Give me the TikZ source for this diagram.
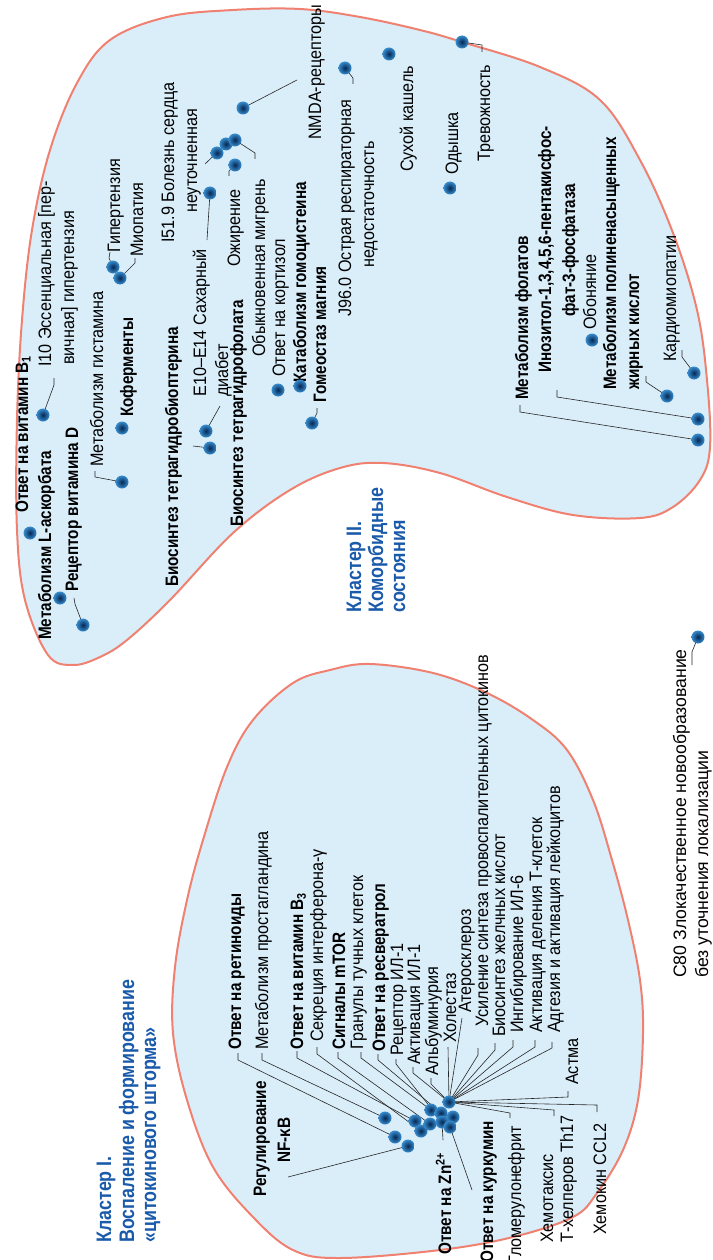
\documentclass[tikz,border=0pt]{standalone}
\usepackage{fontspec}
\setmainfont{Liberation Sans}[FakeStretch=0.9,BoldFeatures={FakeStretch=0.85}]
\newfontfamily\widefont{Liberation Sans}[FakeStretch=0.98]
\definecolor{blobfill}{RGB}{218,238,250}
\definecolor{blobline}{RGB}{240,128,112}
\definecolor{headblue}{RGB}{25,90,170}
\definecolor{dotin}{RGB}{5,40,85}
\definecolor{dotout}{RGB}{55,140,205}
\pgfdeclarelayer{bg}
\pgfdeclarelayer{fg}
\pgfsetlayers{bg,main,fg}
\tikzset{
  lab/.style={rotate=90, anchor=base west, inner sep=0pt, text=black, font=\fontsize{18}{22}\selectfont},
  blab/.style={lab, font=\fontsize{18}{22}\selectfont\bfseries},
  wlab/.style={lab, font=\widefont\fontsize{18}{22}\selectfont},
  head/.style={rotate=90, anchor=base west, inner sep=0pt, text=headblue, font=\fontsize{21}{23}\selectfont\bfseries},
  blob/.style={draw=blobline, line width=2pt, fill=blobfill},
  leader/.style={draw=black!85, line width=0.6pt},
  dot/.style={circle, minimum size=13pt, inner sep=0pt, draw=none, inner color=dotin, outer color=dotout}
}
\begin{document}
\begin{tikzpicture}[x=1pt,y=-1pt]
\useasboundingbox (0,0) rectangle (712,1260);
% ---- blobs
\begin{pgfonlayer}{bg}
\draw[blob] plot[smooth cycle, tension=0.6] coordinates {(110,40) (167,17) (233,10) (300,9) (360,17) (420,30) (462,42) (540,67) (600,100) (640,160) (673,233) (697,310) (707,380) (710,447) (700,480) (673,507) (640,518) (573,515) (507,497) (440,473) (383,463) (340,468) (290,490) (233,533) (170,600) (127,640) (100,657) (73,665) (48,655) (25,600) (17,530) (17,420) (22,320) (32,230) (50,150) (77,83)};
\draw[blob] plot[smooth cycle, tension=0.6] coordinates {(253,720) (293,683) (330,670) (370,664) (433,673) (487,693) (533,720) (567,750) (593,800) (612,860) (628,920) (640,980) (643,1033) (638,1100) (623,1150) (597,1193) (573,1217) (513,1237) (440,1250) (340,1258) (293,1250) (253,1217) (213,1167) (187,1100) (173,1033) (175,967) (187,900) (203,840) (227,767)};
\end{pgfonlayer}
% ---- dots
\begin{pgfonlayer}{fg}
\node[dot] (nnmda) at (243,108) {};
\node[dot] (na) at (217,153) {};
\node[dot] (nb) at (226,144) {};
\node[dot] (nc) at (235,140) {};
\node[dot] (nobes) at (235,165) {};
\node[dot] (ne10) at (210,193) {};
\node[dot] (ndiab) at (206,431) {};
\node[dot] (nbh4) at (210,448) {};
\node[dot] (ncort) at (278,390) {};
\node[dot] (nhcy) at (300,386) {};
\node[dot] (nmg) at (312,423) {};
\node[dot] (nj96) at (345,68) {};
\node[dot] (ncough) at (389,54) {};
\node[dot] (ndysp) at (450,188) {};
\node[dot] (nanx) at (462,42) {};
\node[dot] (nfol) at (698,440) {};
\node[dot] (nino) at (698,419) {};
\node[dot] (nsmell) at (592,340) {};
\node[dot] (npufa) at (667,396) {};
\node[dot] (ncard) at (694,373) {};
\node[dot] (ni10) at (43,415) {};
\node[dot] (nhist) at (122,482) {};
\node[dot] (ncoenz) at (122,428) {};
\node[dot] (nhyp) at (113,267) {};
\node[dot] (nmyo) at (120,278) {};
\node[dot] (nb1) at (30,533) {};
\node[dot] (nasc) at (60,598) {};
\node[dot] (nvitd) at (83,625) {};
\node[dot] (nc80) at (698,637) {};
\node[dot] (d1) at (385,1118) {};
\node[dot] (d2) at (395,1137) {};
\node[dot] (d3) at (408,1146) {};
\node[dot] (d4) at (415,1121) {};
\node[dot] (d5) at (421,1131) {};
\node[dot] (d6) at (431,1110) {};
\node[dot] (d7) at (430,1124) {};
\node[dot] (d8) at (441,1113) {};
\node[dot] (d10) at (453,1117) {};
\node[dot] (d11) at (442,1122) {};
\node[dot] (d12) at (450,1127) {};
\node[dot] (d9) at (449,1102) {};
\end{pgfonlayer}
% ---- leader coordinates (cluster II)
\coordinate (knmda) at (297,80);
\coordinate (kneut) at (205,164);
\coordinate (kmig1) at (255,153); \coordinate (kmig2) at (255,159);
\coordinate (kob1) at (229,171); \coordinate (kob2) at (229,176);
\coordinate (ke10) at (207,240);
\coordinate (kdiab) at (220,406);
\coordinate (kbh4) at (193,446);
\coordinate (kmg1) at (317,413); \coordinate (kmg2) at (317,408);
\coordinate (kj1) at (353,78); \coordinate (kj2) at (353,84);
\coordinate (kanx1) at (482,45); \coordinate (kanx2) at (482,52);
\coordinate (kfol1) at (520,412); \coordinate (kfol2) at (520,405);
\coordinate (kino1) at (557,397); \coordinate (kino2) at (557,390);
\coordinate (kpufa1) at (646,382); \coordinate (kpufa2) at (646,376);
\coordinate (kcard1) at (682,357); \coordinate (kcard2) at (682,350);
\coordinate (ki101) at (54,385); \coordinate (ki102) at (54,378);
\coordinate (khist1) at (95,477); \coordinate (khist2) at (95,471);
\coordinate (khyp1) at (109,258); \coordinate (khyp2) at (110,252);
\coordinate (kmyo1) at (135,263); \coordinate (kmyo2) at (135,258);
\coordinate (kvitd1) at (75,604); \coordinate (kvitd2) at (74,598);
\coordinate (kc801) at (692,652); \coordinate (kc802) at (692,665);
% ---- leader coordinates (cluster I)
\coordinate (kret1) at (238,1060); \coordinate (kret2) at (238,1053);
\coordinate (kpgl1) at (262,1060); \coordinate (kpgl2) at (262,1053);
\coordinate (kb31) at (297,1058); \coordinate (kb32) at (297,1051);
\coordinate (kifn1) at (317,1054); \coordinate (kifn2) at (317,1047);
\coordinate (kmtor1) at (338,1058); \coordinate (kmtor2) at (338,1052);
\coordinate (kmast1) at (361,1058); \coordinate (kmast2) at (361,1052);
\coordinate (kresv1) at (378,1060); \coordinate (kresv2) at (378,1054);
\coordinate (kilr1) at (396,1064); \coordinate (kilr2) at (396,1059);
\coordinate (kila1) at (413,1073); \coordinate (kila2) at (413,1067);
\coordinate (kalb1) at (431,1084); \coordinate (kalb2) at (431,1078);
\coordinate (kchol) at (448,1047);
\coordinate (kath) at (462,1018);
\coordinate (kcyt1) at (478,1055); \coordinate (kcyt2) at (478,1048);
\coordinate (kbile1) at (495,1050); \coordinate (kbile2) at (495,1043);
\coordinate (kil61) at (513,1047); \coordinate (kil62) at (513,1040);
\coordinate (ktc1) at (535,1047); \coordinate (ktc2) at (535,1040);
\coordinate (kleu1) at (552,1048); \coordinate (kleu2) at (552,1042);
\coordinate (kast1) at (568,1097); \coordinate (kast2) at (568,1091);
\coordinate (kth1) at (554,1110); \coordinate (kth2) at (554,1116);
\coordinate (kccl1) at (597,1105); \coordinate (kccl2) at (597,1112);
\coordinate (kglom1) at (510,1113); \coordinate (kglom2) at (510,1118);
\coordinate (kcurc) at (472,1190);
\coordinate (kzn) at (443,1140);
\coordinate (knfkb) at (288,1177);
% ---- leaders
\draw[leader] (nnmda.center) -- (knmda);
\draw[leader] (nb.center) -- (kneut);
\draw[leader] (nc.center) -- (kmig1) -- (kmig2);
\draw[leader] (nobes.center) -- (kob1) -- (kob2);
\draw[leader] (ne10.center) -- (ke10);
\draw[leader] (ndiab.center) -- (kdiab);
\draw[leader] (nbh4.center) -- (kbh4);
\draw[leader] (nmg.center) -- (kmg1) -- (kmg2);
\draw[leader] (nj96.center) -- (kj1) -- (kj2);
\draw[leader] (nanx.center) -- (kanx1) -- (kanx2);
\draw[leader] (nfol.center) -- (kfol1) -- (kfol2);
\draw[leader] (nino.center) -- (kino1) -- (kino2);
\draw[leader] (npufa.center) -- (kpufa1) -- (kpufa2);
\draw[leader] (ncard.center) -- (kcard1) -- (kcard2);
\draw[leader] (ni10.center) -- (ki101) -- (ki102);
\draw[leader] (nhist.center) -- (khist1) -- (khist2);
\draw[leader] (nhyp.center) -- (khyp1) -- (khyp2);
\draw[leader] (nmyo.center) -- (kmyo1) -- (kmyo2);
\draw[leader] (nvitd.center) -- (kvitd1) -- (kvitd2);
\draw[leader] (nc80.center) -- (kc801) -- (kc802);
\draw[leader] (d2.center) -- (kret1) -- (kret2);
\draw[leader] (d1.center) -- (kpgl1) -- (kpgl2);
\draw[leader] (d4.center) -- (kb31) -- (kb32);
\draw[leader] (d5.center) -- (kifn1) -- (kifn2);
\draw[leader] (d7.center) -- (kmtor1) -- (kmtor2);
\draw[leader] (d6.center) -- (kmast1) -- (kmast2);
\draw[leader] (d8.center) -- (kresv1) -- (kresv2);
\draw[leader] (d11.center) -- (kilr1) -- (kilr2);
\draw[leader] (d9.center) -- (kila1) -- (kila2);
\draw[leader] (d9.center) -- (kalb1) -- (kalb2);
\draw[leader] (d9.center) -- (kchol);
\draw[leader] (d9.center) -- (kath);
\draw[leader] (d9.center) -- (kcyt1) -- (kcyt2);
\draw[leader] (d9.center) -- (kbile1) -- (kbile2);
\draw[leader] (d9.center) -- (kil61) -- (kil62);
\draw[leader] (d9.center) -- (ktc1) -- (ktc2);
\draw[leader] (d9.center) -- (kleu1) -- (kleu2);
\draw[leader] (d9.center) -- (kast1) -- (kast2);
\draw[leader] (d9.center) -- (kth1) -- (kth2);
\draw[leader] (d9.center) -- (kccl1) -- (kccl2);
\draw[leader] (d9.center) -- (kglom1) -- (kglom2);
\draw[leader] (d12.center) -- (kcurc);
\draw[leader] (d11.center) -- (kzn);
\draw[leader] (d3.center) -- (knfkb);
% ---- texts cluster II
\node[lab] (tnmda) at (321,140) {NMDA-рецепторы};
\node[lab] (ti51a) at (174,243) {I51.9 Болезнь сердца};
\node[lab] (ti51b) at (197,213) {неуточненная};
\node[lab] (tobes) at (240,267) {Ожирение};
\node[lab] (tmigr) at (265,357) {Обыкновенная мигрень};
\node[lab] (te10a) at (206,397) {E10–E14 Сахарный};
\node[lab] (te10b) at (228,397) {диабет};
\node[blab] (tbh4) at (178,587) {Биосинтез тетрагидробиоптерина};
\node[blab] (tthf) at (243,527) {Биосинтез тетрагидрофолата};
\node[lab] (tcort) at (285,377) {Ответ на кортизол};
\node[blab] (thcy) at (306,383) {Катаболизм гомоцистеина};
\node[blab] (tmg) at (326,403) {Гомеостаз магния};
\node[lab] (tj96a) at (351,317) {J96.0 Острая респираторная};
\node[lab] (tj96b) at (374,268) {недостаточность};
\node[lab] (tcough) at (413,172) {Сухой кашель};
\node[lab] (tdysp) at (458,175) {Одышка};
\node[lab] (tanx) at (490,162) {Тревожность};
\node[blab] (tfol) at (528,400) {Метаболизм фолатов};
\node[blab] (tinoa) at (551,373) {Инозитол-1,3,4,5,6-пентакисфос-};
\node[blab] (tinob) at (575,317) {фат-3-фосфатаза};
\node[lab] (tsmell) at (596,330) {Обоняние};
\node[blab] (tpufa) at (616,390) {Метаболизм полиненасыщенных};
\node[blab] (tpufb) at (639,390) {жирных кислот};
\node[lab] (tcard) at (676,362) {Кардиомиопатии};
\node[lab] (ti10a) at (51,367) {I10 Эссенциальная [пер-};
\node[lab] (ti10b) at (74,365) {вичная] гипертензия};
\node[lab] (thist) at (103,467) {Метаболизм гистамина};
\node[blab] (tcoenz) at (133,417) {Коферменты};
\node[lab] (thyp) at (120,253) {Гипертензия};
\node[lab] (tmyo) at (143,257) {Миопатия};
\node[blab] (tb1) at (28,513) {Ответ на витамин B\textsubscript{1}};
\node[blab] (tasc) at (51,640) {Метаболизм L-аскорбата};
\node[blab] (tvitd) at (78,592) {Рецептор витамина D};
\node[head] (h2a) at (361,613) {Кластер II.};
\node[head] (h2b) at (383,613) {Коморбидные};
\node[head] (h2c) at (405,613) {состояния};
\node[wlab] (tc80a) at (686,978) {C80 Злокачественное новообразование};
\node[wlab] (tc80b) at (708,978) {без уточнения локализации};
% ---- texts cluster I
\node[blab] (tret) at (241,1050) {Ответ на ретиноиды};
\node[lab] (tpgl) at (268,1050) {Метаболизм простагландина};
\node[blab] (tb3) at (303,1050) {Ответ на витамин B\textsubscript{3}};
\node[lab] (tifn) at (323,1042) {Секреция интерферона-γ};
\node[blab] (tmtor) at (345,1050) {Сигналы mTOR};
\node[lab] (tmast) at (363,1050) {Гранулы тучных клеток};
\node[blab] (tresv) at (385,1052) {Ответ на ресвератрол};
\node[lab] (tilr) at (403,1056) {Рецептор ИЛ-1};
\node[lab] (tila) at (420,1065) {Активация ИЛ-1};
\node[lab] (talb) at (438,1076) {Альбуминурия};
\node[lab] (tchol) at (456,1043) {Холестаз};
\node[lab] (tath) at (471,1013) {Атеросклероз};
\node[lab] (tcyt) at (488,1027) {Усиление синтеза провоспалительных цитокинов};
\node[lab] (tbile) at (505,1037) {Биосинтез желчных кислот};
\node[lab] (til6) at (523,1033) {Ингибирование ИЛ-6};
\node[lab] (ttc) at (542,1033) {Активация деления Т-клеток};
\node[lab] (tleu) at (560,1033) {Адгезия и активация лейкоцитов};
\node[lab] (tast) at (578,1085) {Астма};
\node[lab] (tccl) at (606,1235) {Хемокин CCL2};
\node[lab] (tcha) at (553,1243) {Хемотаксис};
\node[lab] (tchb) at (573,1243) {Т-хелперов Th17};
\node[lab] (tglom) at (521,1265) {Гломерулонефрит};
\node[blab] (tcurc) at (493,1263) {Ответ на куркумин};
\node[blab] (tzn) at (451,1255) {Ответ на Zn\textsuperscript{2+}};
\node[blab] (tnfa) at (266,1197) {Регулирование};
\node[blab] (tnfb) at (290,1163) {NF-κB};
\node[head] (h1a) at (111,1243) {Кластер I.};
\node[head] (h1b) at (134,1243) {Воспаление и формирование};
\node[head] (h1c) at (156,1243) {«цитокинового шторма»};
\end{tikzpicture}
\end{document}
